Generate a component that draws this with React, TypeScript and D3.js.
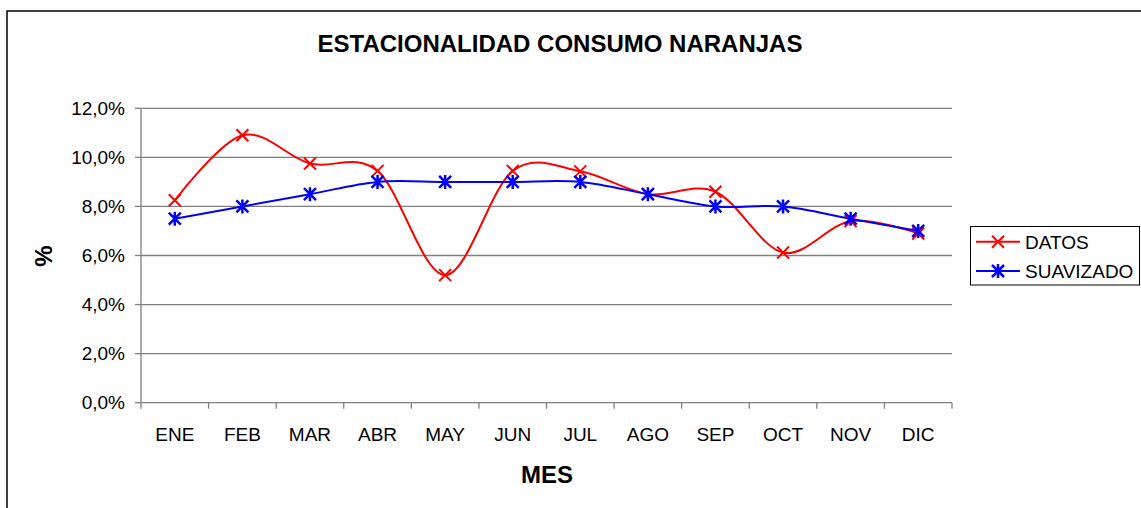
import React from "react";
import * as d3 from "d3";

const categories = ["ENE", "FEB", "MAR", "ABR", "MAY", "JUN", "JUL", "AGO", "SEP", "OCT", "NOV", "DIC"];
const datos = [8.25, 10.9, 9.75, 9.45, 5.2, 9.45, 9.43, 8.5, 8.6, 6.12, 7.4, 6.9];
const suavizado = [7.5, 8.0, 8.5, 9.0, 9.0, 9.0, 9.0, 8.5, 8.0, 8.0, 7.5, 7.0];
const yTicks = [0, 2, 4, 6, 8, 10, 12];
const seriesNames = ["DATOS", "SUAVIZADO"];
const seriesColors = ["#ff0000", "#0000ff"];

const W = 1141;
const H = 508;
const plot = { left: 141, right: 952, top: 108.3, bottom: 402.7 };
const FONT = "Arial, 'Liberation Sans', sans-serif";

function Marker({ kind, x, y, color }: { kind: number; x: number; y: number; color: string }) {
  const s = 6;
  if (kind === 0) {
    return (
      <path d={`M${x - s},${y - s}L${x + s},${y + s}M${x - s},${y + s}L${x + s},${y - s}`} stroke={color} strokeWidth={2} fill="none" />
    );
  }
  return (
    <path
      d={`M${x - s},${y - s}L${x + s},${y + s}M${x - s},${y + s}L${x + s},${y - s}M${x},${y - s - 1}L${x},${y + s + 1}`}
      stroke={color}
      strokeWidth={2.5}
      fill="none"
    />
  );
}

export default function App() {
  const x = d3.scaleBand<string>().domain(categories).range([plot.left, plot.right]);
  const y = d3.scaleLinear().domain([0, 12]).range([plot.bottom, plot.top]);
  const cx = (c: string) => (x(c) as number) + x.bandwidth() / 2;
  const line = d3
    .line<number>()
    .x((_, i) => cx(categories[i]))
    .y((v) => y(v))
    .curve(d3.curveCardinal.tension(0));
  const series = [datos, suavizado];
  const fmt = (v: number) => v.toFixed(1).replace(".", ",") + "%";
  const boundaries = categories.map((c) => x(c) as number).concat([plot.right]);

  return (
    <svg width={W} height={H} style={{ position: "absolute", left: 0, top: 0, display: "block" }} fontFamily={FONT}>
      <rect x={0} y={0} width={W} height={H} fill="#fff" />
      <rect x={7} y={11} width={W + 20} height={H + 20} fill="#fff" stroke="#000" strokeWidth={1.5} />
      <text x={560} y={51.5} textAnchor="middle" fontWeight="bold" fontSize={24} fill="#000">
        ESTACIONALIDAD CONSUMO NARANJAS
      </text>
      {/* gridlines */}
      {yTicks.map((t) => (
        <g key={t}>
          <line x1={plot.left} x2={plot.right} y1={y(t)} y2={y(t)} stroke="#808080" strokeWidth={1.3} />
          <line x1={plot.left - 6} x2={plot.left} y1={y(t)} y2={y(t)} stroke="#808080" strokeWidth={1.3} />
          <text x={125} y={y(t) + 6.6} textAnchor="end" fontSize={19} fill="#000">
            {fmt(t)}
          </text>
        </g>
      ))}
      <line x1={plot.left} x2={plot.left} y1={plot.top} y2={plot.bottom} stroke="#808080" strokeWidth={1.3} />
      {boundaries.map((b, i) => (
        <line key={i} x1={b} x2={b} y1={plot.bottom} y2={plot.bottom + 6} stroke="#808080" strokeWidth={1.3} />
      ))}
      {categories.map((c) => (
        <text key={c} x={cx(c)} y={441} textAnchor="middle" fontSize={19} fill="#000">
          {c}
        </text>
      ))}
      <text x={547} y={482.5} textAnchor="middle" fontWeight="bold" fontSize={24} fill="#000">
        MES
      </text>
      <text transform="translate(52,256) rotate(-90)" textAnchor="middle" fontWeight="bold" fontSize={24} fill="#000">
        %
      </text>
      {series.map((s, si) => (
        <g key={si}>
          <path d={line(s) as string} fill="none" stroke={seriesColors[si]} strokeWidth={2} />
          {s.map((v, i) => (
            <Marker key={i} kind={si} x={cx(categories[i])} y={y(v)} color={seriesColors[si]} />
          ))}
        </g>
      ))}
      {/* legend */}
      <rect x={970.5} y={226.5} width={169} height={58.5} fill="#fff" stroke="#000" strokeWidth={1} />
      {seriesNames.map((n, i) => {
        const ly = 241.7 + i * 29.3;
        return (
          <g key={n}>
            <line x1={976} x2={1020} y1={ly} y2={ly} stroke={seriesColors[i]} strokeWidth={2} />
            <Marker kind={i} x={998} y={ly} color={seriesColors[i]} />
            <text x={1025} y={ly + 7} fontSize={19} fill="#000">
              {n}
            </text>
          </g>
        );
      })}
    </svg>
  );
}
